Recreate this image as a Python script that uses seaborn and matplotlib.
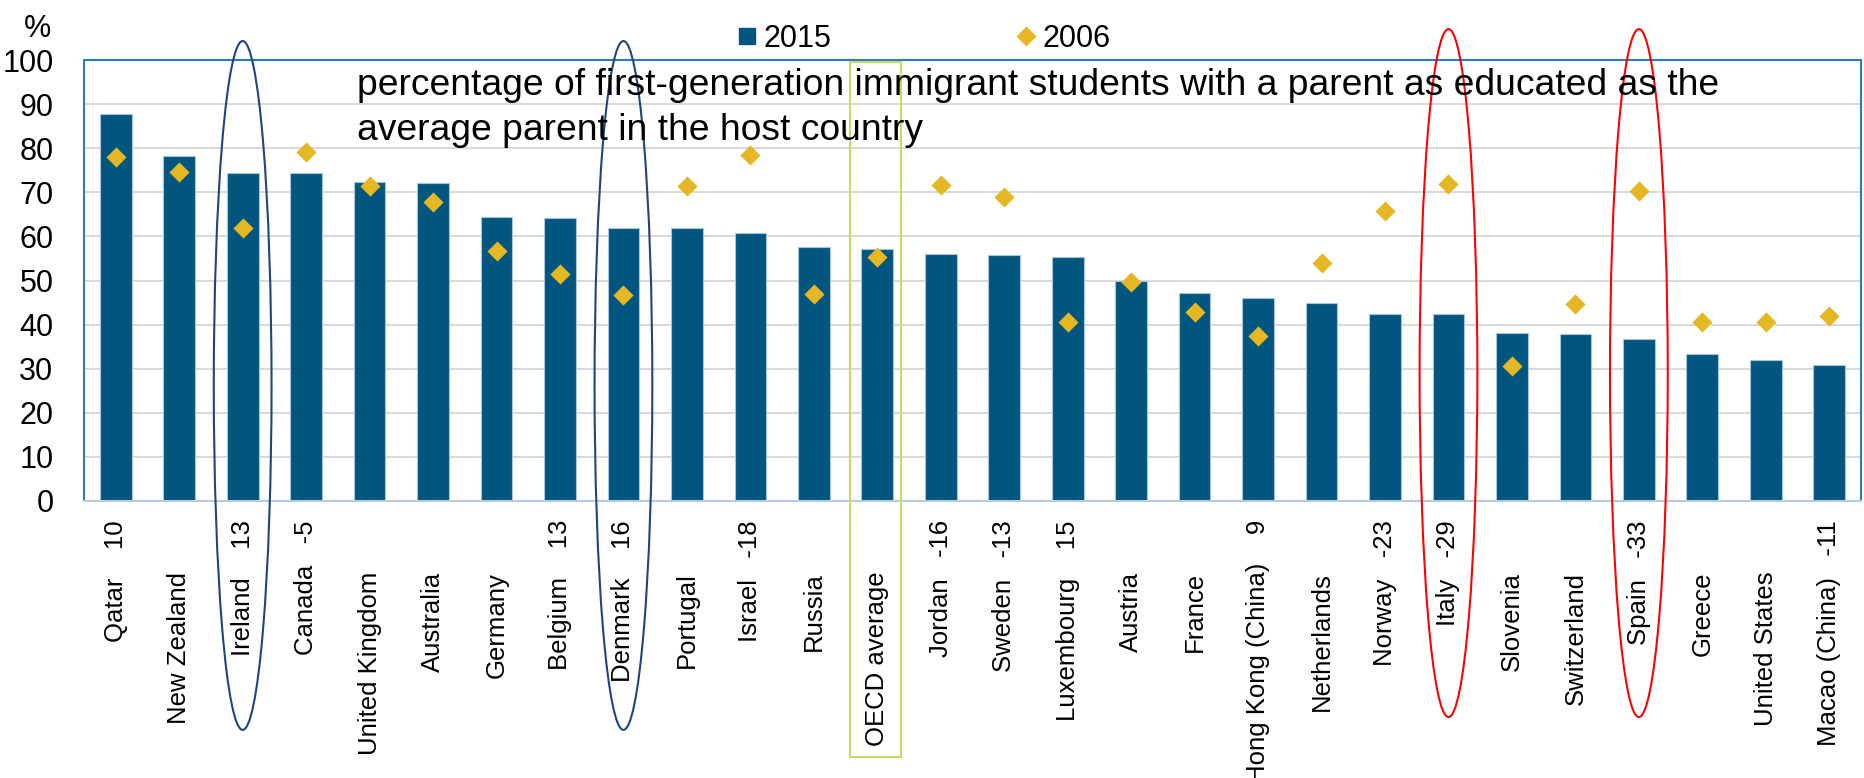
import pandas as pd
import seaborn as sns
import matplotlib.pyplot as plt
from matplotlib.patches import Ellipse, Rectangle
from matplotlib.lines import Line2D

countries = ['Qatar', 'New Zealand', 'Ireland', 'Canada', 'United Kingdom', 'Australia',
             'Germany', 'Belgium', 'Denmark', 'Portugal', 'Israel', 'Russia',
             'OECD average', 'Jordan', 'Sweden', 'Luxembourg', 'Austria', 'France',
             'Hong Kong (China)', 'Netherlands', 'Norway', 'Italy', 'Slovenia',
             'Switzerland', 'Spain', 'Greece', 'United States', 'Macao (China)']
share_2015 = [87.8, 78.3, 74.3, 74.3, 72.3, 72.2, 64.3, 64.1, 62.0, 61.8, 60.8, 57.6,
              57.1, 55.9, 55.8, 55.3, 50.0, 47.1, 46.0, 44.8, 42.5, 42.3, 38.2, 37.9,
              36.8, 33.3, 32.0, 30.9]
share_2006 = [78.1, 74.7, 61.8, 79.1, 71.4, 67.9, 56.7, 51.5, 46.6, 71.4, 78.5, 46.9,
              55.4, 71.7, 68.9, 40.6, 49.7, 42.9, 37.4, 53.9, 65.8, 71.8, 30.6, 44.7,
              70.2, 40.6, 40.6, 42.0]
change = ['10', '', '13', '-5', '', '', '', '13', '16', '', '-18', '', '',
          '-16', '-13', '15', '', '', '9', '', '-23', '-29', '', '', '-33', '', '', '-11']
yticks = list(range(0, 101, 10))
blue_marks = ['Ireland', 'Denmark']
red_marks = ['Italy', 'Spain']
boxed = 'OECD average'
note = ['percentage of first-generation immigrant students with a parent as educated as the',
        'average parent in the host country']

bar_col = '#00567f'
dia_col = '#e5b823'
diamond = [(0, 1), (1, 0), (0, -1), (-1, 0), (0, 1)]

sns.set_style('white')
plt.rcParams['font.family'] = ['Liberation Sans', 'DejaVu Sans']
plt.rcParams['text.color'] = 'black'
plt.rcParams['xtick.color'] = 'black'
plt.rcParams['ytick.color'] = 'black'

df = pd.DataFrame({'country': countries, '2015': share_2015, '2006': share_2006})

W, H = 1864, 778
fig = plt.figure(figsize=(W / 100, H / 100), dpi=100)
ax = fig.add_axes([84 / W, 1 - 501 / H, 1777 / W, 441 / H])

ax.yaxis.grid(True, color='#d9d9d9', lw=1.4)
ax.set_axisbelow(True)
sns.barplot(data=df, x='country', y='2015', color=bar_col, saturation=1, width=0.5,
            edgecolor='#a8c4da', linewidth=0.8, ax=ax)
sns.stripplot(data=df, x='country', y='2006', jitter=False, color=dia_col,
              marker=diamond, size=14.5, linewidth=0, ax=ax, zorder=3)

ax.set_xlim(-0.5, len(countries) - 0.5)
ax.set_ylim(0, 100)
ax.set_yticks(yticks)
ax.set_xlabel('')
ax.set_ylabel('')
ax.tick_params(axis='y', length=0, pad=22, labelsize=22, labelcolor='black')
ax.tick_params(axis='x', length=0, labelbottom=False)

for side in ['left', 'top', 'right']:
    ax.spines[side].set_color('#2a7ac6')
    ax.spines[side].set_linewidth(1.5)
ax.spines['bottom'].set_color('#b7cbe0')
ax.spines['bottom'].set_linewidth(1.5)

# country names, with the 2006-2015 change after them where given
for i, (name, c) in enumerate(zip(countries, change)):
    if c:
        gap = '   ' if c.startswith('-') else '    '
        label, off = name + gap + c, -13.7
    else:
        label, off = name, -51
    ax.annotate(label, xy=(i, 0), xycoords=('data', 'axes fraction'), xytext=(0, off),
                textcoords='offset points', rotation=90, ha='center', va='top',
                fontsize=18.5)

# highlight ovals and box
for name in blue_marks:
    i = countries.index(name)
    ax.add_patch(Ellipse((i, 26.2), 0.91, 156.2, fill=False, ec='#1f4580', lw=1.5,
                         clip_on=False, zorder=5))
for name in red_marks:
    i = countries.index(name)
    ax.add_patch(Ellipse((i, 29.0), 0.91, 156.0, fill=False, ec='#ff0000', lw=1.5,
                         clip_on=False, zorder=5))
i = countries.index(boxed)
ax.add_patch(Rectangle((i - 0.43, -58.0), 0.80, 157.6, fill=False, ec='#c8da62', lw=1.5,
                       clip_on=False, zorder=5))

handles = [Line2D([], [], ls='none', marker='s', ms=11.5, color=bar_col),
           Line2D([], [], ls='none', marker=diamond, ms=13, color=dia_col)]
fig.legend(handles, ['2015', '2006'], loc='center left', bbox_to_anchor=(738 / W, 1 - 39 / H),
           ncol=2, frameon=False, fontsize=22, handlelength=0.6, handletextpad=0.25,
           columnspacing=6.05, borderpad=0, borderaxespad=0)

fig.text(357 / W, 1 - 95 / H, note[0], fontsize=26.8, va='baseline')
fig.text(357 / W, 1 - 140 / H, note[1], fontsize=26.8, va='baseline')
fig.text(37.5 / W, 1 - 37 / H, '%', fontsize=22, ha='center', va='baseline')

fig.savefig('out.png', dpi=100)
